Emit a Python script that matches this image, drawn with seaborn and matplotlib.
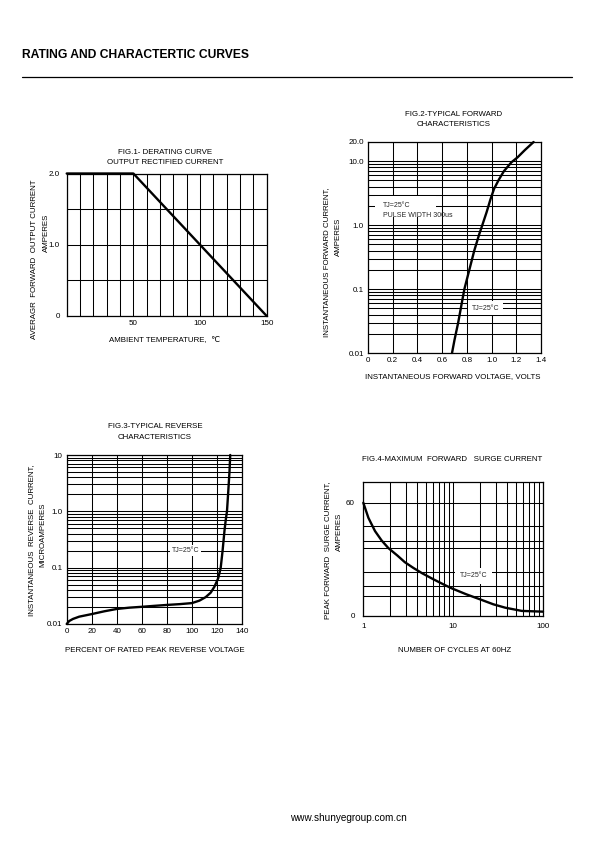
import numpy as np
import matplotlib
matplotlib.use("Agg")
import matplotlib.pyplot as plt
import matplotlib.ticker as mticker
from matplotlib.patches import Rectangle
from matplotlib.lines import Line2D
import seaborn as sns

# ---- data ----
# Fig.1 derating curve
temp_c = [0, 50, 150]
avg_current_a = [2.0, 2.0, 0.0]

# Fig.2 typical forward characteristics
fwd_volts = [0.68, 0.70, 0.73, 0.76, 0.78, 0.82, 0.86, 0.90, 0.925, 0.96,
             0.99, 1.02, 1.06, 1.10, 1.16, 1.21, 1.27, 1.34]
fwd_amps = [0.01, 0.016, 0.03, 0.062, 0.1, 0.2, 0.4, 0.72, 1.0, 1.6,
            2.5, 3.7, 5.2, 7.0, 9.6, 11.5, 15.0, 20.0]

# Fig.3 typical reverse characteristics
rev_pct = [0, 2, 5, 10, 20, 30, 40, 50, 60, 70, 80, 90, 100, 106, 111, 115,
           118, 121, 123, 124.5, 126, 127, 128, 129, 130, 130.6]
rev_ua = [0.01, 0.0113, 0.0123, 0.0135, 0.015, 0.0168, 0.0185, 0.0195, 0.0202,
          0.021, 0.0218, 0.0225, 0.0235, 0.026, 0.03, 0.036, 0.046, 0.065, 0.1,
          0.2, 0.45, 0.7, 1.0, 2.2, 5.0, 10.0]

# Fig.4 maximum forward surge current
cycles = [1, 1.14, 1.35, 1.6, 1.9, 2.4, 2.9, 3.6, 4.5, 6, 8, 9.6, 14, 20.8,
          28, 38, 58, 100]
surge_a = [60, 52, 45, 40, 36, 32, 28.5, 25.5, 22.7, 19.5, 16.5, 14.7, 11.5,
           8.5, 6.2, 4.4, 2.7, 2.3]

# ---- style ----
sns.set_theme(style="white")
plt.rcParams['font.family'] = ['Liberation Sans', 'DejaVu Sans']
plt.rcParams['axes.edgecolor'] = 'black'
plt.rcParams['axes.linewidth'] = 0.9

W, H = 595, 842
fig = plt.figure(figsize=(W / 100, H / 100), dpi=100)


def box(l, t, r, b):
    return [l / W, 1 - b / H, (r - l) / W, (b - t) / H]


def ftext(x, y, s, **kw):
    kw.setdefault('fontsize', 5.7)
    kw.setdefault('ha', 'center')
    kw.setdefault('va', 'center')
    fig.text(x / W, 1 - y / H, s, color='black', **kw)


def style_axes(ax):
    ax.set_axisbelow(True)
    ax.grid(True, which='both', color='black', linewidth=0.75)
    ax.tick_params(which='both', length=0, labelsize=5.8, colors='black', pad=3)
    for sp in ax.spines.values():
        sp.set_color('black')
        sp.set_linewidth(0.9)
    for ln in ax.lines:
        ln.set_clip_on(False)
    ax.set_xlabel('')
    ax.set_ylabel('')


curve_kw = dict(color='black', linewidth=1.7, estimator=None)

# ---- Fig.1 ----
ax1 = fig.add_axes(box(66.7, 173.5, 266.7, 316))
sns.lineplot(x=temp_c, y=avg_current_a, ax=ax1, **curve_kw)
ax1.set_xlim(0, 150)
ax1.set_ylim(0, 2.0)
ax1.set_xticks([50, 100, 150])
ax1.set_xticks(np.arange(0, 151, 10), minor=True)
ax1.set_yticks([0, 1.0, 2.0])
ax1.set_yticklabels(['0', '1.0', '2.0'])
ax1.set_yticks([0.5, 1.5], minor=True)
style_axes(ax1)
ax1.tick_params(axis='y', pad=5)

ftext(165, 152, 'FIG.1- DERATING CURVE')
ftext(165, 162, 'OUTPUT RECTIFIED CURRENT')
ftext(165, 341, 'AMBIENT TEMPERATURE,  \u2103')
ftext(35, 259, 'AVERAGR  FORWARD  OUTPUT CURRENT', rotation=90)
ftext(46, 233, 'AMPERES', rotation=90)

# ---- Fig.2 ----
ax2 = fig.add_axes(box(368, 142, 541, 353))
sns.lineplot(x=fwd_volts, y=fwd_amps, ax=ax2, **curve_kw)
ax2.set_yscale('log')
ax2.set_xlim(0, 1.4)
ax2.set_ylim(0.01, 20)
ax2.set_xticks(np.arange(0, 1.41, 0.2))
ax2.set_xticklabels(['0', '0.2', '0.4', '0.6', '0.8', '1.0', '1.2', '1.4'])
ax2.yaxis.set_major_locator(mticker.FixedLocator([0.01, 0.1, 1, 10, 20]))
ax2.yaxis.set_major_formatter(mticker.FixedFormatter(['0.01', '0.1', '1.0', '10.0', '20.0']))
ax2.yaxis.set_minor_locator(mticker.LogLocator(base=10, subs=np.arange(2, 10)))
ax2.yaxis.set_minor_formatter(mticker.NullFormatter())
style_axes(ax2)
ax2.add_patch(Rectangle((0.06, 1.35), 0.49, 1.5, facecolor='white',
                        edgecolor='none', zorder=1))
ax2.text(0.12, 2.0, 'TJ=25\u00b0C', fontsize=5, va='center', zorder=3)
ax2.text(0.12, 1.42, 'PULSE WIDTH 300us', fontsize=5, va='center', zorder=3)
ax2.text(0.95, 0.05, 'TJ=25\u00b0C', fontsize=5, ha='center', va='center', zorder=3,
         bbox=dict(facecolor='white', edgecolor='none', pad=2.5))

ftext(454, 115, 'FIG.2-TYPICAL FORWARD')
ftext(454, 125, 'CHARACTERISTICS')
ftext(453, 377, 'INSTANTANEOUS FORWARD VOLTAGE, VOLTS')
ftext(327, 262, 'INSTANTANEOUS FORWARD CURRENT,', rotation=90)
ftext(338, 237, 'AMPERES', rotation=90)

# ---- Fig.3 ----
ax3 = fig.add_axes(box(66.7, 455, 242, 624))
sns.lineplot(x=rev_pct, y=rev_ua, ax=ax3, **curve_kw)
ax3.set_yscale('log')
ax3.set_xlim(0, 140)
ax3.set_ylim(0.01, 10)
ax3.set_xticks(np.arange(0, 141, 20))
ax3.yaxis.set_major_locator(mticker.FixedLocator([0.01, 0.1, 1, 10]))
ax3.yaxis.set_major_formatter(mticker.FixedFormatter(['0.01', '0.1', '1.0', '10']))
ax3.yaxis.set_minor_locator(mticker.LogLocator(base=10, subs=np.arange(2, 10)))
ax3.yaxis.set_minor_formatter(mticker.NullFormatter())
style_axes(ax3)
ax3.text(95, 0.2, 'TJ=25\u00b0C', fontsize=5, ha='center', va='center', zorder=3,
         bbox=dict(facecolor='white', edgecolor='none', pad=1.5))

ftext(155, 427, 'FIG.3-TYPICAL REVERSE')
ftext(155, 437.5, 'CHARACTERISTICS')
ftext(155, 650, 'PERCENT OF RATED PEAK REVERSE VOLTAGE')
ftext(32, 540, 'INSTANTANEOUS  REVERSE  CURRENT,', rotation=90)
ftext(43, 535, 'MICROAMPERES', rotation=90)

# ---- Fig.4 ----
ax4 = fig.add_axes(box(363.3, 482, 543, 616))
sns.lineplot(x=cycles, y=surge_a, ax=ax4, **curve_kw)
ax4.set_xscale('log')
ax4.set_xlim(1, 100)
ax4.set_ylim(0, 71)
ax4.xaxis.set_major_locator(mticker.FixedLocator([1, 10, 100]))
ax4.xaxis.set_major_formatter(mticker.FixedFormatter(['1', '10', '100']))
ax4.xaxis.set_minor_locator(mticker.LogLocator(base=10, subs=np.arange(2, 10)))
ax4.xaxis.set_minor_formatter(mticker.NullFormatter())
ax4.set_yticks([0, 60])
ax4.set_yticks([10.6, 15.9, 23.2, 36, 40, 47.8], minor=True)
style_axes(ax4)
ax4.tick_params(axis='y', pad=6)
ax4.tick_params(axis='x', pad=5)
ax4.text(16.8, 21.2, 'TJ=25\u00b0C', fontsize=5, ha='center', va='center', zorder=3,
         bbox=dict(facecolor='white', edgecolor='none', pad=3.5))

ftext(452, 459, 'FIG.4-MAXIMUM  FORWARD   SURGE CURRENT')
ftext(455, 650, 'NUMBER OF CYCLES AT 60HZ')
ftext(328, 550, 'PEAK FORWARD  SURGE CURRENT,', rotation=90)
ftext(339, 532, 'AMPERES', rotation=90)

# ---- page header / footer ----
ftext(22, 55, 'RATING AND CHARACTERTIC CURVES', fontsize=8.7, weight='bold', ha='left')
fig.add_artist(Line2D([22 / W, 572 / W], [1 - 77 / H, 1 - 77 / H],
                      color='black', linewidth=0.9))
ftext(348, 818, 'www.shunyegroup.com.cn', fontsize=7.2)

fig.savefig('out.png', dpi=100)
